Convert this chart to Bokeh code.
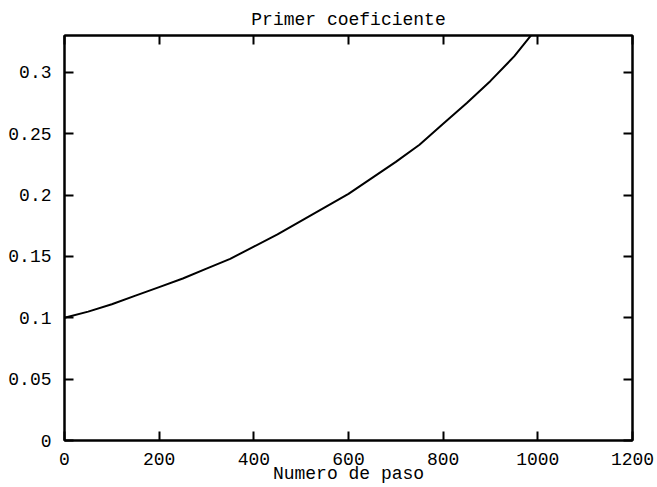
from bokeh.plotting import figure
from bokeh.models import Range1d, FixedTicker, LinearAxis
from bokeh.embed import file_html
from bokeh.resources import INLINE

# Data
steps = [0, 50, 100, 150, 200, 250, 300, 350, 400, 450, 500, 550, 600, 650,
         700, 750, 800, 850, 900, 950, 1000]
coef = [0.100, 0.105, 0.111, 0.118, 0.125, 0.132, 0.140, 0.148, 0.158, 0.168,
        0.179, 0.190, 0.201, 0.214, 0.227, 0.241, 0.258, 0.275, 0.293, 0.313,
        0.337]
x_ticks = [0, 200, 400, 600, 800, 1000, 1200]
y_ticks = [0, 0.05, 0.1, 0.15, 0.2, 0.25, 0.3]
y_tick_labels = ["0", "0.05", "0.1", "0.15", "0.2", "0.25", "0.3"]
title_text = "Primer coeficiente"
x_label = "Numero de paso"

FONT = "Liberation Mono"
FS = "18px"
LW = 2

p = figure(output_backend="svg", toolbar_location=None,
           frame_width=568, frame_height=405,
           min_border_left=64, min_border_right=24,
           min_border_top=35, min_border_bottom=42,
           x_range=Range1d(0, 1200), y_range=Range1d(0, 0.33),
           title=title_text)
p.title.align = "center"
p.title.text_font = FONT
p.title.text_font_size = FS
p.title.text_font_style = "normal"
p.title.text_color = "black"
p.title.standoff = 12

p.line(steps, coef, line_color="black", line_width=LW)

p.grid.visible = False
p.outline_line_color = "black"
p.outline_line_width = LW
p.background_fill_color = "white"
p.border_fill_color = "white"

xa = p.xaxis[0]
ya = p.yaxis[0]
xa.ticker = FixedTicker(ticks=x_ticks)
ya.ticker = FixedTicker(ticks=y_ticks)
ya.major_label_overrides = {t: l for t, l in zip(y_ticks, y_tick_labels)}
xa.axis_label = x_label
for ax in (xa, ya):
    ax.major_tick_in = 9
    ax.major_tick_out = 0
    ax.minor_tick_line_color = None
    ax.axis_line_width = LW
    ax.major_tick_line_width = LW
    ax.major_label_text_font = FONT
    ax.major_label_text_font_size = FS
    ax.major_label_text_color = "black"
    ax.axis_label_text_font = FONT
    ax.axis_label_text_font_size = FS
    ax.axis_label_text_font_style = "normal"
    ax.axis_label_text_color = "black"
xa.major_label_standoff = 12
xa.axis_label_standoff = -4
ya.major_label_standoff = 13

# mirrored ticks on top and right
top = LinearAxis(ticker=FixedTicker(ticks=x_ticks), major_tick_in=9, major_tick_out=0,
                 minor_tick_line_color=None, major_label_text_color=None,
                 axis_line_width=LW, major_tick_line_width=LW,
                 major_label_text_font_size="0px")
right = LinearAxis(ticker=FixedTicker(ticks=y_ticks), major_tick_in=9, major_tick_out=0,
                   minor_tick_line_color=None, major_label_text_color=None,
                   axis_line_width=LW, major_tick_line_width=LW,
                   major_label_text_font_size="0px")
p.add_layout(top, "above")
p.add_layout(right, "right")

open("out.html", "w").write(file_html(p, INLINE))
